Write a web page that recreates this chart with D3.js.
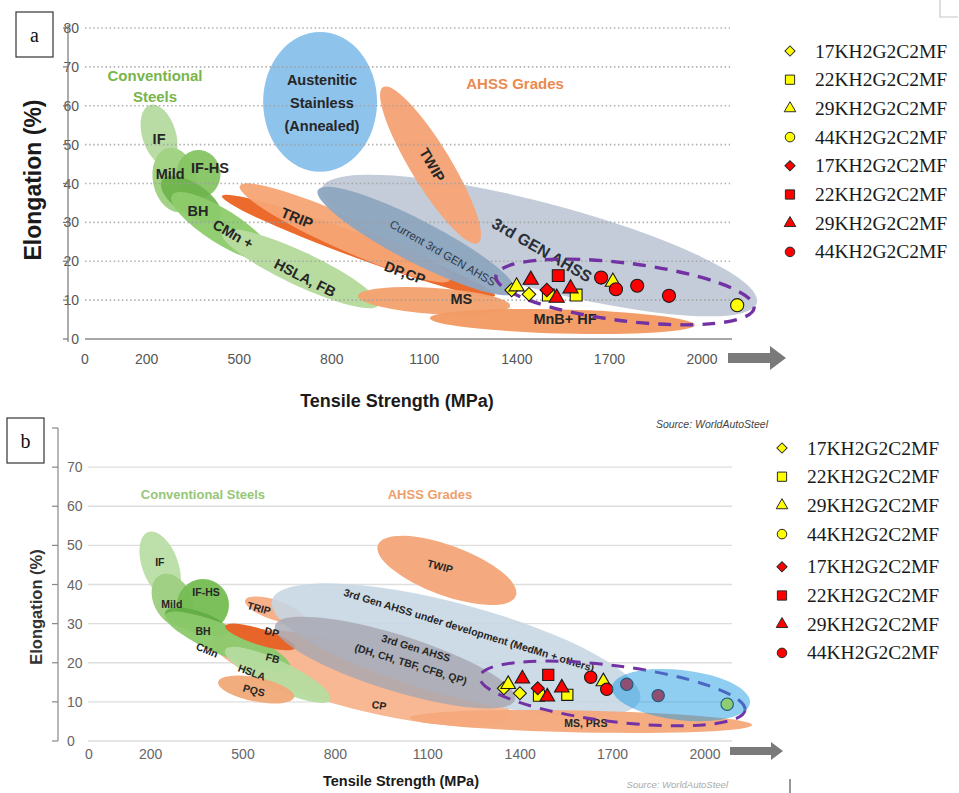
<!DOCTYPE html>
<html>
<head>
<meta charset="utf-8">
<script src="https://cdn.jsdelivr.net/npm/d3@7"></script>
<style>
  html, body { margin: 0; padding: 0; background: #fff; }
  svg { display: block; }
</style>
</head>
<body>
<svg id="chart" width="959" height="793"></svg>
<script>
// ---------------- data ----------------
const tsTicks  = [0, 200, 500, 800, 1100, 1400, 1700, 2000];   // tensile strength, MPa
const elTicksA = [0, 10, 20, 30, 40, 50, 60, 70, 80];          // elongation, %
const elTicksB = [0, 10, 20, 30, 40, 50, 60, 70];

const gradeNames  = ["17KH2G2C2MF", "22KH2G2C2MF", "29KH2G2C2MF", "44KH2G2C2MF"];
const gradeShapes = ["diamond", "square", "triangle", "circle"];

// measured steels [tensile strength MPa, elongation %], one list per grade
const pointsAYellow = [
  [[1383, 12.6], [1439, 11.5]],
  [[1502, 11.3], [1592, 11.3]],
  [[1399, 13.5], [1711, 14.7]],
  [[2114, 8.7]]
];
const pointsARed = [
  [[1497, 12.6]],
  [[1534, 16.3]],
  [[1445, 15.2], [1529, 10.6], [1574, 13.0]],
  [[1673, 15.8], [1721, 12.8], [1790, 13.7], [1893, 11.1]]
];
const pointsBYellow = [
  [[1347, 13.5], [1399, 12.2]],
  [[1461, 11.6], [1553, 11.8]],
  [[1361, 14.5], [1670, 15.2]],
  [[2072, 9.4]]
];
const pointsBRed = [
  [[1457, 13.5]],
  [[1491, 16.9]],
  [[1407, 15.9], [1488, 11.3], [1535, 13.6]],
  [[1629, 16.3], [1681, 13.2], [1746, 14.5], [1848, 11.6]]
];

// steel families: [name, TS start, El start, TS end, El end, band width (El)]
const familiesA = [
  ["IF",           211, 60.2,  269, 44.8,  8.7],
  ["Mild",         269, 49.1,  314, 32.7, 11.3],
  ["IF-HS",        363, 48.6,  373, 36.3, 11.3],
  ["BH",           250, 40.9,  438, 31.1,  8.2],
  ["CMn +",        282, 37.0,  606, 20.8,  8.7],
  ["HSLA, FB",     444, 27.5,  950,  8.7,  8.7],
  ["DP,CP",        444, 36.8, 1329, 11.1,  6.2],
  ["TRIP",         502, 39.4, 1183, 15.2,  8.7],
  ["3rd GEN AHSS", 768, 38.8, 2178,  9.3, 22.1],
  ["Current 3rd GEN AHSS", 755, 38.3, 1394, 12.1, 10.8],
  ["MS",           885, 11.1, 1378,  8.5,  6.7],
  ["MnB+ HF",     1118,  5.4, 1977,  3.6,  6.2],
  ["TWIP",         966, 64.8, 1274, 24.7, 10.3],
  ["Austenitic Stainless", 762, 79.0, 762, 43.0, 29.3]
];
const familiesB = [
  ["FB, CP",       399, 25.8, 1367,  6.6, 16.4],
  ["IF",           192, 53.4,  270, 36.5,  9.2],
  ["Mild",         231, 42.4,  312, 29.6,  9.7],
  ["IF-HS",        370, 41.4,  370, 28.1, 13.3],
  ["BH",           247, 33.0,  451, 27.9,  5.6],
  ["CMn",          247, 32.2,  653, 18.7,  7.7],
  ["HSLA",         442, 23.3,  783, 10.5,  7.2],
  ["PQS",          419, 15.1,  666, 11.2,  6.1],
  ["TRIP",         507, 36.0,  701, 30.9,  5.1],
  ["DP",           442, 29.4,  669, 23.8,  4.1],
  ["3rd Gen AHSS under development", 594, 36.0, 1789, 10.5, 23.5],
  ["3rd Gen AHSS", 604, 29.6, 1383, 10.5, 14.3],
  ["TWIP",         938, 50.1, 1386, 37.1, 12.8],
  ["MS, PRS",     1042,  5.9, 2153,  4.1,  5.6]
];
// target window of the tested grades (dashed) and the >1700 MPa zone
const targetA = [1332, 16.2, 2169, 8.0, 14.9];
const targetB = [1269, 16.4, 2130, 7.9, 14.3];
const zoneB   = [1698, 13.8, 2146, 9.7, 12.8];

// family labels: [text, TS, El, angle, style]
const labelsA = [
  ["Conventional", 227, 67.7, 0, "green"],
  ["Steels",       227, 62.5, 0, "green"],
  ["AHSS Grades", 1394, 65.6, 0, "orange"],
  ["Austenitic",   768, 66.6, 0, "bold"],
  ["Stainless",    768, 60.7, 0, "bold"],
  ["(Annealed)",   768, 54.8, 0, "bold"],
  ["IF",           240, 51.4, 0, "bold"],
  ["Mild",         276, 42.4, 0, "bold"],
  ["IF-HS",        405, 44.0, 0, "bold"],
  ["BH",           366, 33.0, 0, "bold"],
  ["CMn +",        480, 27.0, 30, "bold"],
  ["HSLA, FB",     713, 15.7, 27, "bold"],
  ["TRIP",         687, 31.1, 22, "bold"],
  ["DP,CP",       1037, 17.0, 20, "bold"],
  ["MS",          1220, 10.3, 0, "bold"],
  ["MnB+ HF",     1556,  5.1, 0, "bold"],
  ["Current 3rd GEN AHSS", 1160, 22.1, 30, "thin"],
  ["3rd GEN AHSS", 1481, 22.9, 30, "big"],
  ["TWIP",        1125, 44.8, 60, "bold"]
];
const labelsB = [
  ["Conventional Steels", 370, 62.9, 0, "green"],
  ["AHSS Grades", 1107, 62.9, 0, "orange"],
  ["IF",    230, 45.8, 0, "small"],
  ["Mild",  269, 35.0, 0, "small"],
  ["IF-HS", 380, 38.1, 0, "small"],
  ["BH",    370, 28.0, 0, "small"],
  ["CMn",   384, 23.3, 22, "small"],
  ["HSLA",  529, 17.6, 20, "small"],
  ["PQS",   536, 13.0, 15, "small"],
  ["TRIP",  552, 34.0, 15, "small"],
  ["DP",    594, 27.9, 15, "small"],
  ["FB",    597, 21.2, 15, "small"],
  ["CP",    942,  9.2, 10, "small"],
  ["TWIP", 1140, 44.7, 15, "small"],
  ["3rd Gen AHSS under development (MedMn + others)", 1234, 28.4, 17, "small"],
  ["3rd Gen AHSS", 1062, 23.8, 17, "small"],
  ["(DH, CH, TBF, CFB, QP)", 1045, 19.7, 17, "small"],
  ["MS, PRS", 1613, 4.6, 0, "small"]
];

// ---------------- styles ----------------
const SANS = "'Liberation Sans', Arial, Helvetica, sans-serif";
const SERIF = "'Liberation Serif', 'Times New Roman', serif";

const fillA = {
  "IF": ["#b9dca5", 1], "Mild": ["#a2d283", 1], "IF-HS": ["#86c463", 0.95], "BH": ["#6db34a", 0.9],
  "CMn +": ["#8dcb6c", 0.95], "HSLA, FB": ["#b8dca0", 1],
  "DP,CP": ["#ec6a2b", 1], "TRIP": ["#f5a474", 0.95],
  "3rd GEN AHSS": ["#c3ccd8", 1], "Current 3rd GEN AHSS": ["#8ea5c0", 0.95],
  "MS": ["#f4a270", 0.97], "MnB+ HF": ["#f39b63", 0.97], "TWIP": ["#f5a67b", 1],
  "Austenitic Stainless": ["#8ec3ec", 1]
};
const fillB = {
  "FB, CP": ["#f7b893", 1], "IF": ["#bddfa9", 1], "Mild": ["#a0d084", 1], "IF-HS": ["#74bd52", 0.95],
  "BH": ["#62ad42", 0.9], "CMn": ["#8bc96c", 0.95], "HSLA": ["#b5dc9f", 0.95], "PQS": ["#f1a978", 0.95],
  "TRIP": ["#f6b08a", 1], "DP": ["#e8652a", 1],
  "3rd Gen AHSS under development": ["#c6d6e4", 0.88], "3rd Gen AHSS": ["#a6a6b0", 0.8],
  "TWIP": ["#f4aa7e", 1], "MS, PRS": ["#f4a87a", 0.95]
};
const labelStyle = {
  green:  { size: 15,   weight: "bold", fill: "#79b54a" },
  orange: { size: 15,   weight: "bold", fill: "#ea8a4f" },
  bold:   { size: 14.5, weight: "bold", fill: "#262626" },
  thin:   { size: 11.5, weight: "normal", fill: "#2c3a4a" },
  big:    { size: 16,   weight: "bold", fill: "#2a2f38" }
};
const labelStyleB = {
  green:  { size: 13,   weight: "bold", fill: "#96c678" },
  orange: { size: 13,   weight: "bold", fill: "#eda06c" },
  small:  { size: 10.5, weight: "bold", fill: "#262626" }
};
const markerFill = { yellow: "#ffff00", red: "#ff0000" };

// ---------------- helpers ----------------
const svg = d3.select("#chart");

function bandGeometry(t1, e1, t2, e2, w, x, y) {
  const x1 = x(t1), y1 = y(e1), x2 = x(t2), y2 = y(e2);
  const pxPerEl = Math.abs(y(0) - y(1));
  return {
    cx: (x1 + x2) / 2, cy: (y1 + y2) / 2,
    rx: Math.hypot(x2 - x1, y2 - y1) / 2,
    ry: w * pxPerEl / 2,
    ang: Math.atan2(y2 - y1, x2 - x1) * 180 / Math.PI
  };
}

function drawFamilies(g, list, x, y, fills) {
  g.selectAll("ellipse.family").data(list).join("ellipse")
    .attr("class", "family")
    .each(function (d) {
      const b = bandGeometry(d[1], d[2], d[3], d[4], d[5], x, y);
      d3.select(this)
        .attr("cx", 0).attr("cy", 0).attr("rx", b.rx).attr("ry", b.ry)
        .attr("transform", `translate(${b.cx},${b.cy}) rotate(${b.ang})`)
        .attr("fill", fills[d[0]][0])
        .attr("fill-opacity", fills[d[0]][1]);
    });
}

function drawLabels(g, list, x, y, styles) {
  g.selectAll("text.lbl").data(list).join("text")
    .attr("class", "lbl")
    .attr("transform", d => `translate(${x(d[1])},${y(d[2])}) rotate(${d[3]})`)
    .attr("text-anchor", "middle")
    .attr("dominant-baseline", "central")
    .attr("font-family", SANS)
    .attr("font-size", d => styles[d[4]].size)
    .attr("font-weight", d => styles[d[4]].weight)
    .attr("fill", d => styles[d[4]].fill)
    .text(d => d[0]);
}

function symbolPath(shape, area) {
  const type = { diamond: d3.symbolSquare, square: d3.symbolSquare,
                 triangle: d3.symbolTriangle, circle: d3.symbolCircle }[shape];
  return d3.symbol(type, area)();
}

function drawPoints(g, groups, color, x, y, areas) {
  groups.forEach((pts, i) => {
    const shape = gradeShapes[i];
    g.selectAll(null).data(pts).join("path")
      .attr("d", symbolPath(shape, areas[shape]))
      .attr("transform", d => `translate(${x(d[0])},${y(d[1])})` + (shape === "diamond" ? " rotate(45)" : ""))
      .attr("fill", markerFill[color])
      .attr("stroke", "#1a1a1a")
      .attr("stroke-width", 1.1);
  });
}

function drawArrow(g, x0, x1, cy, shaftH, headW, headH) {
  const p = d3.path();
  p.moveTo(x0, cy - shaftH / 2);
  p.lineTo(x1 - headW, cy - shaftH / 2);
  p.lineTo(x1 - headW, cy - headH / 2);
  p.lineTo(x1, cy);
  p.lineTo(x1 - headW, cy + headH / 2);
  p.lineTo(x1 - headW, cy + shaftH / 2);
  p.lineTo(x0, cy + shaftH / 2);
  p.closePath();
  g.append("path").attr("d", p.toString()).attr("fill", "#7a7a7a");
}

function drawLegend(g, xMarker, xText, yOf) {
  const entries = [];
  ["yellow", "red"].forEach(c => gradeNames.forEach((n, i) => entries.push({ c, n, shape: gradeShapes[i] })));
  const areas = { diamond: 52, square: 85, triangle: 58, circle: 72 };
  entries.forEach((e, k) => {
    const yy = yOf(k);
    g.append("path")
      .attr("d", symbolPath(e.shape, areas[e.shape]))
      .attr("transform", `translate(${xMarker},${yy})` + (e.shape === "diamond" ? " rotate(45)" : ""))
      .attr("fill", markerFill[e.c]).attr("stroke", "#2a2a2a").attr("stroke-width", 1);
    g.append("text")
      .attr("x", xText).attr("y", yy)
      .attr("dominant-baseline", "central")
      .attr("font-family", SERIF).attr("font-size", 19.5).attr("fill", "#1a1a1a")
      .text(e.n);
  });
}

function panelTag(x, y, letter) {
  svg.append("rect").attr("x", x).attr("y", y).attr("width", 37).attr("height", 45)
    .attr("fill", "#fff").attr("stroke", "#333").attr("stroke-width", 1.2);
  svg.append("text").attr("x", x + 18.5).attr("y", y + 22.5)
    .attr("text-anchor", "middle").attr("dominant-baseline", "central")
    .attr("font-family", SERIF).attr("font-size", 20).attr("fill", "#111").text(letter);
}

// ================= panel a =================
const xA = d3.scaleLinear().domain([0, 2000]).range([85, 702]);
const yA = d3.scaleLinear().domain([0, 80]).range([339, 28]);
const gA = svg.append("g");

drawFamilies(gA.append("g"), familiesA, xA, yA, fillA);

// dotted grid over the families
gA.append("g").selectAll("line").data(elTicksA.filter(v => v > 0)).join("line")
  .attr("x1", 85).attr("x2", 730)
  .attr("y1", d => yA(d)).attr("y2", d => yA(d))
  .attr("stroke", "#9e9e9e").attr("stroke-opacity", 0.8)
  .attr("stroke-width", 1.6).attr("stroke-dasharray", "1.5,2.6");

// x baseline
gA.append("line").attr("x1", 85).attr("x2", 732).attr("y1", yA(0)).attr("y2", yA(0))
  .attr("stroke", "#8a8a8a").attr("stroke-width", 1.6);

// y axis
const axA = gA.append("g");
axA.selectAll("text").data(elTicksA).join("text")
  .attr("x", 79).attr("y", d => yA(d))
  .attr("text-anchor", "end").attr("dominant-baseline", "central")
  .attr("font-family", SANS).attr("font-size", 14).attr("fill", "#555")
  .text(d => d);
axA.append("line").attr("x1", 68).attr("x2", 68).attr("y1", 25).attr("y2", yA(0) + 3)
  .attr("stroke", "#777").attr("stroke-width", 1.2);
axA.selectAll("line.tk").data(elTicksA).join("line").attr("class", "tk")
  .attr("x1", 63).attr("x2", 68).attr("y1", d => yA(d)).attr("y2", d => yA(d))
  .attr("stroke", "#777").attr("stroke-width", 1.2);

// x tick labels
gA.append("g").selectAll("text").data(tsTicks).join("text")
  .attr("x", d => xA(d)).attr("y", 359)
  .attr("text-anchor", "middle").attr("dominant-baseline", "central")
  .attr("font-family", SANS).attr("font-size", 14).attr("fill", "#555")
  .text(d => d);

drawLabels(gA.append("g"), labelsA, xA, yA, labelStyle);

// target window
{
  const b = bandGeometry(...targetA, xA, yA);
  gA.append("ellipse").attr("cx", 0).attr("cy", 0).attr("rx", b.rx).attr("ry", b.ry)
    .attr("transform", `translate(${b.cx},${b.cy}) rotate(${b.ang})`)
    .attr("fill", "none").attr("stroke", "#7232a3").attr("stroke-width", 3.4)
    .attr("stroke-dasharray", "13,9");
}

const ptsA = gA.append("g");
const areasA = { diamond: 92, square: 140, triangle: 100, circle: 135 };
drawPoints(ptsA, pointsAYellow, "yellow", xA, yA, areasA);
drawPoints(ptsA, pointsARed, "red", xA, yA, areasA);

drawArrow(gA, 728, 786, 358, 10, 16, 24);

gA.append("text").attr("x", 397).attr("y", 401)
  .attr("text-anchor", "middle").attr("dominant-baseline", "central")
  .attr("font-family", SANS).attr("font-weight", "bold").attr("font-size", 18).attr("fill", "#1a1a1a")
  .text("Tensile Strength (MPa)");
gA.append("text").attr("transform", "translate(33,180) rotate(-90)")
  .attr("text-anchor", "middle").attr("dominant-baseline", "central")
  .attr("font-family", SANS).attr("font-weight", "bold").attr("font-size", 23).attr("fill", "#1a1a1a")
  .text("Elongation (%)");
gA.append("text").attr("x", 768).attr("y", 424).attr("text-anchor", "end")
  .attr("dominant-baseline", "central")
  .attr("font-family", SANS).attr("font-style", "italic").attr("font-size", 10.5).attr("fill", "#444")
  .text("Source: WorldAutoSteel");

panelTag(16, 12, "a");
drawLegend(svg.append("g"), 790, 815, k => 51 + k * 28.7);

// ================= panel b =================
const xB = d3.scaleLinear().domain([0, 2000]).range([89, 705]);
const yB = d3.scaleLinear().domain([0, 80]).range([741, 428]);
const gB = svg.append("g");

// solid grid behind the families
gB.append("g").selectAll("line").data(elTicksB).join("line")
  .attr("x1", 88).attr("x2", 732)
  .attr("y1", d => yB(d)).attr("y2", d => yB(d))
  .attr("stroke", "#dedede").attr("stroke-width", 1.3);

drawFamilies(gB.append("g"), familiesB, xB, yB, fillB);

// y axis
const axB = gB.append("g");
axB.append("line").attr("x1", 58).attr("x2", 58).attr("y1", yB(80)).attr("y2", yB(0))
  .attr("stroke", "#888").attr("stroke-width", 1.2);
axB.selectAll("line.tk").data(d3.range(0, 81, 10)).join("line").attr("class", "tk")
  .attr("x1", 52).attr("x2", 58).attr("y1", d => yB(d)).attr("y2", d => yB(d))
  .attr("stroke", "#888").attr("stroke-width", 1.2);
axB.selectAll("text").data(elTicksB).join("text")
  .attr("x", 67).attr("y", d => yB(d))
  .attr("dominant-baseline", "central")
  .attr("font-family", SANS).attr("font-size", 14).attr("fill", "#666")
  .text(d => d);

gB.append("g").selectAll("text").data(tsTicks).join("text")
  .attr("x", d => xB(d)).attr("y", 754)
  .attr("text-anchor", "middle").attr("dominant-baseline", "central")
  .attr("font-family", SANS).attr("font-size", 14).attr("fill", "#666")
  .text(d => d);

drawLabels(gB.append("g"), labelsB, xB, yB, labelStyleB);

const ptsB = gB.append("g");
const areasB = { diamond: 84, square: 125, triangle: 92, circle: 120 };
drawPoints(ptsB, pointsBYellow, "yellow", xB, yB, areasB);
drawPoints(ptsB, pointsBRed, "red", xB, yB, areasB);

{
  const b = bandGeometry(...targetB, xB, yB);
  gB.append("ellipse").attr("cx", 0).attr("cy", 0).attr("rx", b.rx).attr("ry", b.ry)
    .attr("transform", `translate(${b.cx},${b.cy}) rotate(${b.ang})`)
    .attr("fill", "none").attr("stroke", "#7232a3").attr("stroke-width", 3)
    .attr("stroke-dasharray", "13,9");
}
// translucent >1700 MPa zone laid over the points
{
  const b = bandGeometry(...zoneB, xB, yB);
  gB.append("ellipse").attr("cx", 0).attr("cy", 0).attr("rx", b.rx).attr("ry", b.ry)
    .attr("transform", `translate(${b.cx},${b.cy}) rotate(${b.ang})`)
    .attr("fill", "#1f9be3").attr("fill-opacity", 0.5);
}

drawArrow(gB, 730, 783, 751, 8, 12, 18);

gB.append("text").attr("x", 401).attr("y", 781)
  .attr("text-anchor", "middle").attr("dominant-baseline", "central")
  .attr("font-family", SANS).attr("font-weight", "bold").attr("font-size", 14.5).attr("fill", "#1a1a1a")
  .text("Tensile Strength (MPa)");
gB.append("text").attr("transform", "translate(36,607) rotate(-90)")
  .attr("text-anchor", "middle").attr("dominant-baseline", "central")
  .attr("font-family", SANS).attr("font-weight", "bold").attr("font-size", 16.5).attr("fill", "#333")
  .text("Elongation (%)");
gB.append("text").attr("x", 728).attr("y", 784).attr("text-anchor", "end")
  .attr("dominant-baseline", "central")
  .attr("font-family", SANS).attr("font-style", "italic").attr("font-size", 9.5).attr("fill", "#aaa")
  .text("Source: WorldAutoSteel");

panelTag(7, 418, "b");
drawLegend(svg.append("g"), 782, 807, k => 448 + k * 28.7 + (k >= 4 ? 4 : 0));

// page edge marks
svg.append("path").attr("d", "M940,0 V17 H958").attr("fill", "none").attr("stroke", "#c8c8c8").attr("stroke-width", 1.2);
svg.append("line").attr("x1", 790).attr("x2", 790).attr("y1", 779).attr("y2", 793)
  .attr("stroke", "#333").attr("stroke-width", 1);
</script>
</body>
</html>
